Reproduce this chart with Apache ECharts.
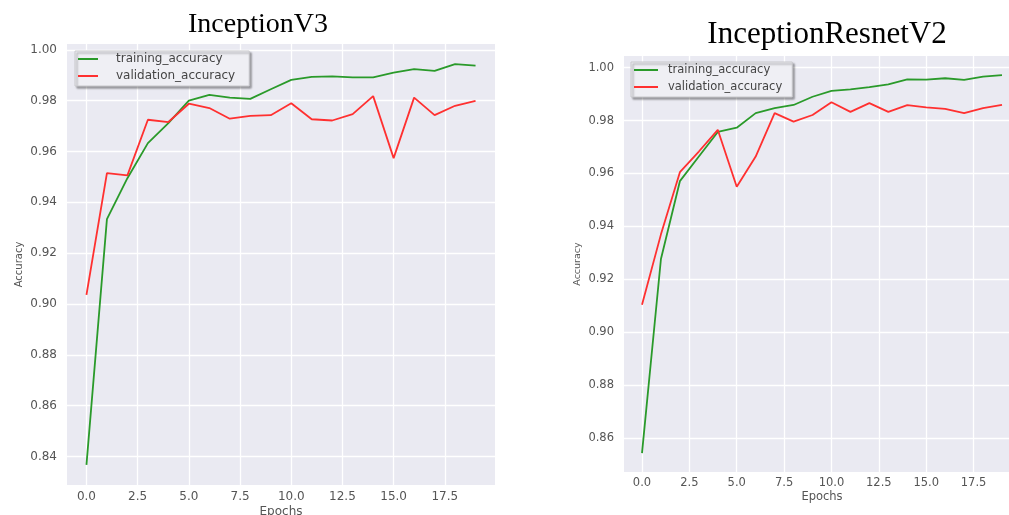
<!DOCTYPE html>
<html>
<head>
<meta charset="utf-8">
<script src="https://cdn.jsdelivr.net/npm/echarts@6/dist/echarts.min.js"></script>
<style>
html,body{margin:0;padding:0;background:#fff;}
#c{width:1009px;height:515px;}
</style>
</head>
<body>
<div id="c"></div>
<script>
const epochs = [0,1,2,3,4,5,6,7,8,9,10,11,12,13,14,15,16,17,18,19];
const v3Train = [0.8367,0.9334,0.9495,0.9633,0.9712,0.9800,0.9823,0.9812,0.9807,0.9845,0.9882,0.9894,0.9896,0.9892,0.9892,0.9910,0.9924,0.9917,0.9944,0.9938];
const v3Val   = [0.9036,0.9515,0.9506,0.9725,0.9716,0.9788,0.9771,0.9729,0.9740,0.9743,0.9790,0.9727,0.9722,0.9747,0.9818,0.9574,0.9812,0.9743,0.9780,0.9799];
const irTrain = [0.8543,0.9277,0.9571,0.9664,0.9757,0.9773,0.9828,0.9847,0.9859,0.9890,0.9912,0.9918,0.9926,0.9937,0.9956,0.9955,0.9960,0.9954,0.9966,0.9972];
const irVal   = [0.9104,0.9370,0.9605,0.9683,0.9765,0.9550,0.9664,0.9828,0.9796,0.9821,0.9869,0.9833,0.9866,0.9833,0.9858,0.9850,0.9844,0.9828,0.9847,0.9859];
const xTicks = [0,2.5,5,7.5,10,12.5,15,17.5];
const yTicksV3 = [0.84,0.86,0.88,0.90,0.92,0.94,0.96,0.98,1.00];
const yTicksIR = [0.86,0.88,0.90,0.92,0.94,0.96,0.98,1.00];
const titles = ['InceptionV3','InceptionResnetV2'];
const seriesNames = ['training_accuracy','validation_accuracy'];
const xName = 'Epochs';
const yName = 'Accuracy';

const GREEN = '#2a9a2a';
const RED = '#ff3030';
const LABEL = '#555';

function pairs(arr){ return arr.map((v,i)=>[epochs[i], v]); }

function xAxisCfg(idx, fs, margin, gap, nfs){
  return {
    type:'value', gridIndex: idx, min:-0.95, max:19.95,
    axisLine:{show:false},
    axisTick:{show:false, customValues: xTicks},
    axisLabel:{customValues: xTicks, color: LABEL, fontSize: fs, fontFamily:'DejaVu Sans', margin: margin,
      formatter: v => (+v).toFixed(1)},
    splitLine:{show:true, lineStyle:{color:'#ffffff', width:1.3}},
    name: xName, nameLocation:'middle', nameGap: gap, nameMoveOverlap: false,
    nameTextStyle:{color: LABEL, fontSize: nfs, fontFamily:'DejaVu Sans'}
  };
}
function yAxisCfg(idx, ticks, mn, mx, fs, gap, nfs){
  return {
    type:'value', gridIndex: idx, min: mn, max: mx,
    axisLine:{show:false},
    axisTick:{show:false, customValues: ticks},
    axisLabel:{customValues: ticks, color: LABEL, fontSize: fs, fontFamily:'DejaVu Sans', margin: 10,
      formatter: v => (+v).toFixed(2)},
    splitLine:{show:true, lineStyle:{color:'#ffffff', width:1.3}},
    name: yName, nameLocation:'middle', nameRotate: 90, nameGap: gap, nameMoveOverlap: false,
    nameTextStyle:{color: LABEL, fontSize: nfs, fontFamily:'DejaVu Sans'}
  };
}
function lineSeries(name, data, color, xi, yi){
  return {
    type:'line', name: name, data: pairs(data), xAxisIndex: xi, yAxisIndex: yi,
    symbol:'none', smooth:false, animation:false,
    lineStyle:{color: color, width: 1.8}, itemStyle:{color: color}
  };
}
function legendCfg(left, top, fs, itemW, textPad, pad){
  return {
    left: left, top: top, orient:'vertical', data: seriesNames,
    icon:'rect', itemWidth: itemW, itemHeight: 2, itemGap: 3,
    padding: pad,
    backgroundColor:'#efeff4', borderColor:'#c8c8cc', borderWidth:1, borderRadius:0,
    shadowColor:'rgba(0,0,0,0.35)', shadowBlur:2, shadowOffsetX:2, shadowOffsetY:2,
    selectedMode:false,
    textStyle:{color:'#444', fontSize: fs, fontFamily:'DejaVu Sans', padding:[0,0,0,textPad], lineHeight:14}
  };
}

const chart = echarts.init(document.getElementById('c'), null, {renderer:'canvas'});
chart.setOption({
  backgroundColor:'#ffffff',
  animation:false,
  title:[
    {text: titles[0], left: 253, top: 6, textAlign:'center',
     textStyle:{fontFamily:'Liberation Serif', fontWeight:'normal', fontSize:28, color:'#000'}},
    {text: titles[1], left: 822, top: 14, textAlign:'center',
     textStyle:{fontFamily:'Liberation Serif', fontWeight:'normal', fontSize:31, color:'#000'}}
  ],
  legend:[
    legendCfg(75, 51, 12, 20, 13, [1,14,3,3]),
    legendCfg(631, 62, 11.5, 24, 5, [1,10,3,3])
  ],
  grid:[
    {left:67, top:44, width:428, height:441, show:true, backgroundColor:'#eaeaf2', borderWidth:0,
     containLabel:false, outerBoundsMode:'none'},
    {left:624, top:56, width:396, height:416, show:true, backgroundColor:'#eaeaf2', borderWidth:0,
     containLabel:false, outerBoundsMode:'none'}
  ],
  xAxis:[ xAxisCfg(0, 12, 6, 21, 12), xAxisCfg(1, 11.5, 5, 19, 11.5) ],
  yAxis:[ yAxisCfg(0, yTicksV3, 0.8288, 1.0023, 12, 43, 10),
          yAxisCfg(1, yTicksIR, 0.8472, 1.0044, 11.5, 41, 9.5) ],
  series:[
    lineSeries(seriesNames[0], v3Train, GREEN, 0, 0),
    lineSeries(seriesNames[1], v3Val, RED, 0, 0),
    lineSeries(seriesNames[0], irTrain, GREEN, 1, 1),
    lineSeries(seriesNames[1], irVal, RED, 1, 1)
  ]
});
</script>
</body>
</html>
